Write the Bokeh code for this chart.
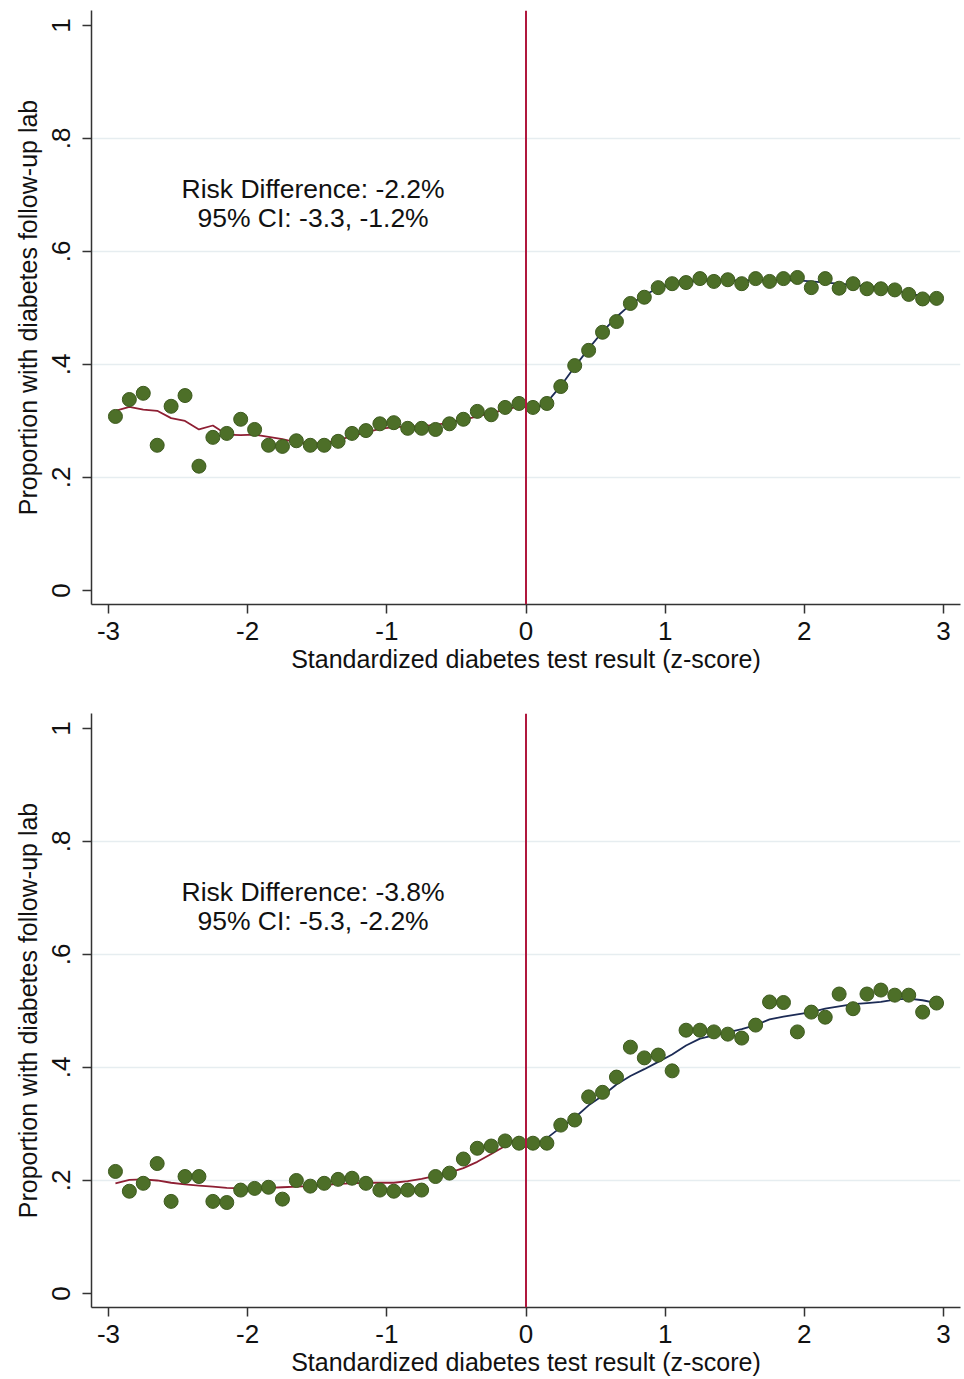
from bokeh.plotting import figure
from bokeh.layouts import column
from bokeh.models import FixedTicker, Span, CustomJSTickFormatter
from bokeh.core.properties import value
from bokeh.embed import file_html
from bokeh.resources import INLINE

# ---------------- data ----------------
x_left = [-2.95, -2.85, -2.75, -2.65, -2.55, -2.45, -2.35, -2.25, -2.15, -2.05,
          -1.95, -1.85, -1.75, -1.65, -1.55, -1.45, -1.35, -1.25, -1.15, -1.05,
          -0.95, -0.85, -0.75, -0.65, -0.55, -0.45, -0.35, -0.25, -0.15, -0.05]
x_right = [0.05, 0.15, 0.25, 0.35, 0.45, 0.55, 0.65, 0.75, 0.85, 0.95,
           1.05, 1.15, 1.25, 1.35, 1.45, 1.55, 1.65, 1.75, 1.85, 1.95,
           2.05, 2.15, 2.25, 2.35, 2.45, 2.55, 2.65, 2.75, 2.85, 2.95]

# Panel 1 (top)
top_pts_left = [0.308, 0.338, 0.349, 0.257, 0.326, 0.345, 0.220, 0.271, 0.278, 0.303,
                0.285, 0.257, 0.255, 0.265, 0.257, 0.257, 0.264, 0.278, 0.283, 0.295,
                0.297, 0.287, 0.287, 0.285, 0.295, 0.303, 0.317, 0.311, 0.324, 0.331]
top_pts_right = [0.324, 0.331, 0.361, 0.398, 0.425, 0.457, 0.476, 0.508, 0.519, 0.536,
                 0.543, 0.545, 0.552, 0.547, 0.550, 0.543, 0.552, 0.547, 0.552, 0.554,
                 0.536, 0.552, 0.535, 0.543, 0.534, 0.534, 0.532, 0.524, 0.516, 0.517]
top_fit_left = [0.318, 0.325, 0.320, 0.318, 0.305, 0.300, 0.285, 0.292, 0.276, 0.275,
                0.276, 0.272, 0.268, 0.262, 0.260, 0.261, 0.266, 0.273, 0.280, 0.286,
                0.289, 0.290, 0.291, 0.293, 0.297, 0.302, 0.308, 0.314, 0.320, 0.326]
top_fit_right = [0.318, 0.333, 0.362, 0.396, 0.428, 0.458, 0.484, 0.506, 0.523, 0.535,
                 0.542, 0.546, 0.548, 0.549, 0.549, 0.549, 0.549, 0.549, 0.549, 0.549,
                 0.547, 0.545, 0.543, 0.541, 0.538, 0.535, 0.531, 0.526, 0.521, 0.517]

# Panel 2 (bottom)
bot_pts_left = [0.216, 0.181, 0.195, 0.230, 0.163, 0.207, 0.207, 0.163, 0.161, 0.183,
                0.186, 0.188, 0.167, 0.200, 0.190, 0.195, 0.202, 0.204, 0.195, 0.183,
                0.181, 0.183, 0.183, 0.207, 0.213, 0.238, 0.257, 0.261, 0.270, 0.266]
bot_pts_right = [0.266, 0.266, 0.298, 0.307, 0.348, 0.356, 0.383, 0.436, 0.417, 0.422,
                 0.394, 0.466, 0.466, 0.463, 0.459, 0.452, 0.475, 0.516, 0.515, 0.463,
                 0.498, 0.489, 0.530, 0.504, 0.530, 0.537, 0.528, 0.528, 0.498, 0.514]
bot_fit_left = [0.195, 0.201, 0.202, 0.200, 0.196, 0.193, 0.191, 0.189, 0.187, 0.186,
                0.186, 0.187, 0.188, 0.189, 0.190, 0.192, 0.194, 0.195, 0.196, 0.196,
                0.196, 0.199, 0.203, 0.208, 0.214, 0.222, 0.233, 0.247, 0.261, 0.278]
bot_fit_right = [0.262, 0.275, 0.294, 0.311, 0.333, 0.350, 0.370, 0.385, 0.397, 0.410,
                 0.423, 0.439, 0.451, 0.457, 0.462, 0.468, 0.475, 0.485, 0.490, 0.494,
                 0.498, 0.504, 0.508, 0.512, 0.514, 0.516, 0.520, 0.522, 0.519, 0.514]

x_ticks = [-3, -2, -1, 0, 1, 2, 3]
y_ticks = [0, 0.2, 0.4, 0.6, 0.8, 1.0]
grid_ticks = [0.2, 0.4, 0.6, 0.8]
cutoff = 0

top_text = ["Risk Difference: -2.2%", "95% CI: -3.3, -1.2%"]
bot_text = ["Risk Difference: -3.8%", "95% CI: -5.3, -2.2%"]
text_x = [-1.53, -1.53]
text_y = [0.71, 0.66]

x_label = "Standardized diabetes test result (z-score)"
y_label = "Proportion with diabetes follow-up lab"

FONT = "Liberation Sans"
PT_COLOR = "#4d6f28"
PT_EDGE = "#3d5a1e"
RED = "#8e1f33"
BLUE = "#1c2b55"
CUT = "#b0183e"


def make_panel(pts_l, pts_r, fit_l, fit_r, texts, height, top_border, bottom_border):
    p = figure(width=964, height=height, output_backend="svg", toolbar_location=None,
               x_range=(-3.122, 3.122), y_range=(-0.0248, 1.0265),
               min_border_left=91, min_border_right=4,
               min_border_top=top_border, min_border_bottom=bottom_border)
    p.outline_line_color = None
    p.background_fill_color = "white"
    p.border_fill_color = "white"

    p.xgrid.visible = False
    p.ygrid.ticker = FixedTicker(ticks=grid_ticks)
    p.ygrid.grid_line_color = "#e6edf0"
    p.ygrid.grid_line_width = 1.5

    for ax in (p.xaxis[0], p.yaxis[0]):
        ax.axis_line_color = "#333333"
        ax.axis_line_width = 1.5
        ax.major_tick_line_color = "#333333"
        ax.major_tick_line_width = 1.5
        ax.major_tick_out = 9
        ax.major_tick_in = 0
        ax.minor_tick_line_color = None
        ax.major_label_text_font = FONT
        ax.major_label_text_font_size = "26px"
        ax.major_label_text_color = "#111111"
        ax.axis_label_text_font = FONT
        ax.axis_label_text_font_size = "25px"
        ax.axis_label_text_font_style = "normal"
        ax.axis_label_text_color = "#111111"

    p.xaxis.ticker = FixedTicker(ticks=x_ticks)
    p.xaxis.formatter = CustomJSTickFormatter(code="return String(tick);")
    p.xaxis.axis_label = x_label
    p.xaxis.major_label_standoff = 8
    p.xaxis.axis_label_standoff = 2

    p.yaxis.ticker = FixedTicker(ticks=y_ticks)
    p.yaxis.formatter = CustomJSTickFormatter(code="""
        if (Math.abs(tick) < 1e-9) return "0";
        if (Math.abs(tick - 1) < 1e-9) return "1";
        return tick.toFixed(1).replace(/^0/, "");
    """)
    p.yaxis.major_label_orientation = "vertical"
    p.yaxis.axis_label = y_label
    p.yaxis.major_label_standoff = 12
    p.yaxis.axis_label_standoff = 8

    p.add_layout(Span(location=cutoff, dimension="height", line_color=CUT, line_width=2))

    p.line(x_left, fit_l, line_color=RED, line_width=1.8)
    p.line(x_right, fit_r, line_color=BLUE, line_width=1.8)

    p.scatter(x_left + x_right, pts_l + pts_r, marker="circle", size=14,
              fill_color=PT_COLOR, line_color=PT_EDGE, line_width=1)

    p.text(x=text_x, y=text_y, text=texts, text_align="center", text_baseline="middle",
           text_font=value(FONT), text_font_size="26.5px", text_color="#111111")
    return p


p1 = make_panel(top_pts_left, top_pts_right, top_fit_left, top_fit_right, top_text,
                690, 10, 86)
p2 = make_panel(bot_pts_left, bot_pts_right, bot_fit_left, bot_fit_right, bot_text,
                689, 23, 72)

layout = column(p1, p2, spacing=0)
open("out.html", "w").write(file_html(layout, INLINE))
